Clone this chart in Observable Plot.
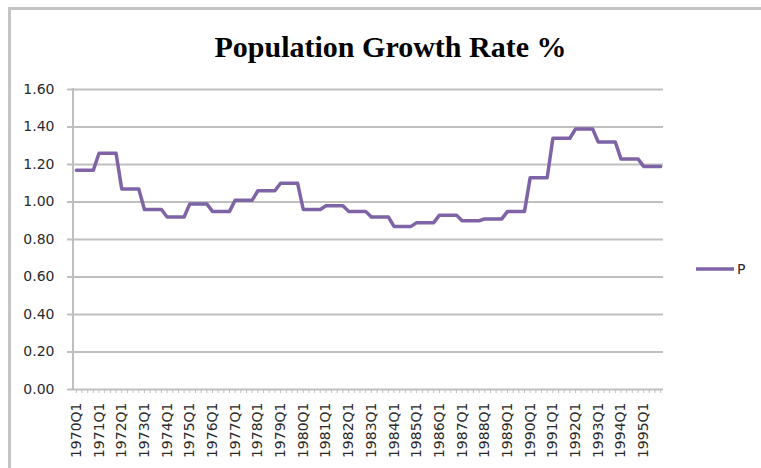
<!DOCTYPE html>
<html>
<head>
<meta charset="utf-8">
<script src="https://cdn.jsdelivr.net/npm/d3@7"></script>
<script src="https://cdn.jsdelivr.net/npm/@observablehq/plot@0.6"></script>
<style>
  html, body { margin: 0; padding: 0; background: #fff; }
  #wrap { position: relative; width: 761px; height: 468px; overflow: hidden; }
  #wrap > svg { position: absolute; left: 0; top: 0; max-width: none; }
  #wrap > svg.chart text { font-family: "DejaVu Sans", sans-serif; font-size: 14px; fill: #2a2a2a; }
</style>
</head>
<body>
<div id="wrap"></div>
<script>
const years = [1970, 1971, 1972, 1973, 1974, 1975, 1976, 1977, 1978, 1979, 1980, 1981, 1982,
               1983, 1984, 1985, 1986, 1987, 1988, 1989, 1990, 1991, 1992, 1993, 1994, 1995];
const quarterNames = ["Q1", "Q2", "Q3", "Q4"];
const quarters = years.flatMap(yr => quarterNames.map(q => `${yr}${q}`));

// Quarterly population growth rate (%), 1970Q1 … 1995Q4
const growth = [
  1.17, 1.17, 1.17, 1.17,   1.26, 1.26, 1.26, 1.26,   1.07, 1.07, 1.07, 1.07,
  0.96, 0.96, 0.96, 0.96,   0.92, 0.92, 0.92, 0.92,   0.99, 0.99, 0.99, 0.99,
  0.95, 0.95, 0.95, 0.95,   1.01, 1.01, 1.01, 1.01,   1.06, 1.06, 1.06, 1.06,
  1.10, 1.10, 1.10, 1.10,   0.96, 0.96, 0.96, 0.96,   0.98, 0.98, 0.98, 0.98,
  0.95, 0.95, 0.95, 0.95,   0.92, 0.92, 0.92, 0.92,   0.87, 0.87, 0.87, 0.87,
  0.89, 0.89, 0.89, 0.89,   0.93, 0.93, 0.93, 0.93,   0.90, 0.90, 0.90, 0.90,
  0.91, 0.91, 0.91, 0.91,   0.95, 0.95, 0.95, 0.95,   1.13, 1.13, 1.13, 1.13,
  1.34, 1.34, 1.34, 1.34,   1.39, 1.39, 1.39, 1.39,   1.32, 1.32, 1.32, 1.32,
  1.23, 1.23, 1.23, 1.23,   1.19, 1.19, 1.19, 1.19
];
const yTicks = [0, 0.2, 0.4, 0.6, 0.8, 1.0, 1.2, 1.4, 1.6];
const seriesName = "P";
const titleText = "Population Growth Rate %";

const data = quarters.map((q, i) => ({quarter: q, value: growth[i]}));
const labelTicks = quarters.filter(q => q.endsWith("Q1"));

const gridColor = "#bfbfbf";
const lineColor = "#7e64a6";
const textColor = "#2a2a2a";

const chart = Plot.plot({
  width: 761,
  height: 468,
  marginLeft: 73,
  marginRight: 98,
  marginTop: 89,
  marginBottom: 79,
  className: "chart",
  style: {fontFamily: "DejaVu Sans, sans-serif", fontSize: "14px", color: textColor, background: "transparent"},
  x: {type: "point", domain: quarters, padding: 0.5},
  y: {domain: [0, 1.6]},
  marks: [
    Plot.gridY({ticks: yTicks, stroke: gridColor, strokeOpacity: 1, strokeWidth: 2}),
    Plot.axisY({ticks: yTicks, tickSize: 6, tickPadding: 13, tickFormat: d3.format(".2f"),
                stroke: gridColor, strokeWidth: 2, fill: textColor, label: null}),
    Plot.axisX({ticks: quarters, tickSize: 4, tickFormat: () => "", stroke: gridColor, label: null}),
    Plot.axisX({ticks: labelTicks, tickSize: 0, tickPadding: 13, tickRotate: -90,
                fill: textColor, label: null}),
    (index, scales, values, dims) => {
      const l = d3.create("svg:line")
        .attr("x1", dims.marginLeft).attr("x2", dims.marginLeft)
        .attr("y1", dims.marginTop - 1).attr("y2", dims.height - dims.marginBottom + 1)
        .attr("stroke", gridColor).attr("stroke-width", 2);
      return l.node();
    },
    Plot.lineY(data, {x: "quarter", y: "value", stroke: lineColor, strokeWidth: 3.5, strokeLinejoin: "round"})
  ]
});

const wrap = document.getElementById("wrap");
wrap.appendChild(chart);
chart.querySelectorAll("text").forEach(t => {
  t.style.fontSize = "14px";
  t.style.fontFamily = "DejaVu Sans, sans-serif";
});

// Overlay: chart-area border, title and legend
const ov = d3.create("svg").attr("width", 761).attr("height", 468)
  .style("position", "absolute").style("left", 0).style("top", 0).style("pointer-events", "none");
ov.append("line").attr("x1", 9.5).attr("x2", 9.5).attr("y1", 7).attr("y2", 468)
  .attr("stroke", "#c4c4c4").attr("stroke-width", 3);
ov.append("line").attr("x1", 8).attr("x2", 761).attr("y1", 8.5).attr("y2", 8.5)
  .attr("stroke", "#c4c4c4").attr("stroke-width", 3);
ov.append("text").attr("x", 390.5).attr("y", 57).attr("text-anchor", "middle")
  .attr("font-family", "Liberation Serif, Times New Roman, serif").attr("font-weight", "bold")
  .attr("font-size", 30).attr("fill", "#000").text(titleText);
ov.append("line").attr("x1", 696).attr("x2", 734).attr("y1", 269).attr("y2", 269)
  .attr("stroke", lineColor).attr("stroke-width", 3.5);
ov.append("text").attr("x", 737).attr("y", 274).attr("font-family", "DejaVu Sans, sans-serif")
  .attr("font-size", 14).attr("fill", textColor).text(seriesName);
wrap.appendChild(ov.node());
</script>
</body>
</html>
